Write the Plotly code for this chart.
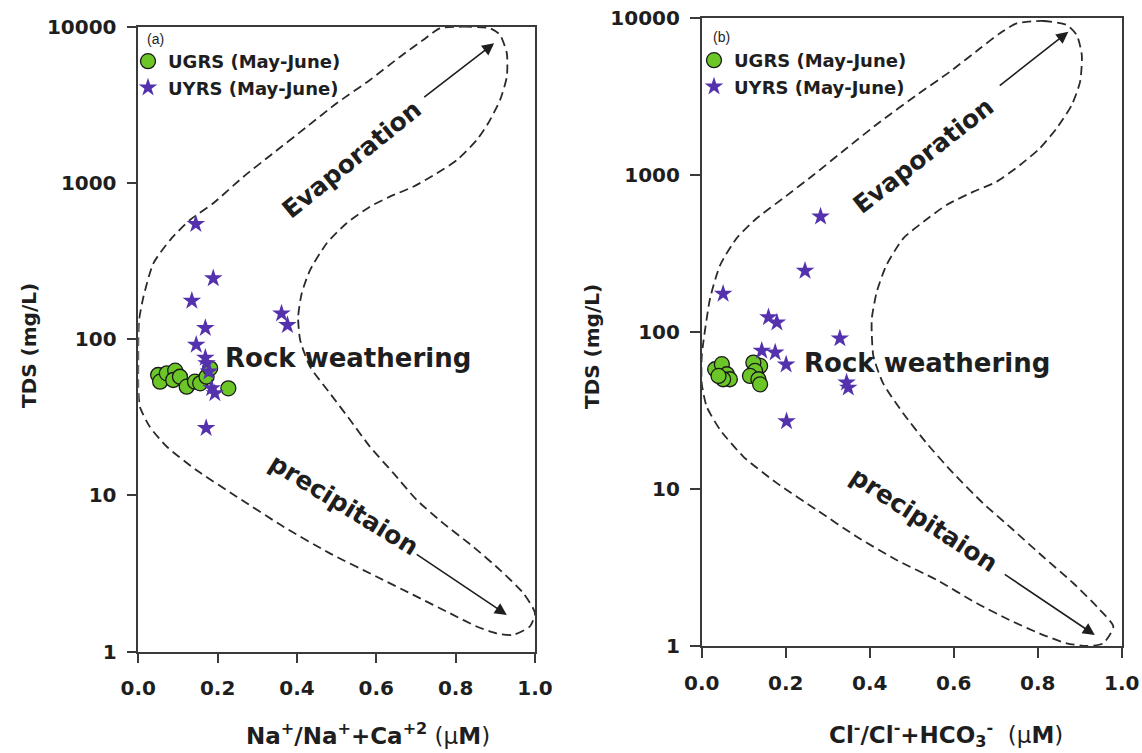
import numpy as np
import plotly.graph_objects as go

# ---------------- data ----------------
# Panel (a): Na+/(Na+ + Ca2+) vs TDS
ugrs_a_ratio = [0.050, 0.055, 0.072, 0.093, 0.088, 0.105, 0.122, 0.143, 0.156, 0.172, 0.181, 0.227]
ugrs_a_tds = [59, 53.5, 60.5, 62.9, 54.8, 57.5, 49.7, 53.5, 52.2, 57.5, 65.1, 48.5]
uyrs_a_ratio = [0.145, 0.189, 0.135, 0.169, 0.146, 0.169, 0.172, 0.178, 0.185, 0.193, 0.171, 0.361, 0.376]
uyrs_a_tds = [546, 245, 176, 118, 92, 76, 70, 62, 48.5, 45.1, 27, 146, 123]

# Panel (b): Cl-/(Cl- + HCO3-) vs TDS
ugrs_b_ratio = [0.032, 0.048, 0.060, 0.067, 0.051, 0.040, 0.139, 0.123, 0.127, 0.115, 0.135, 0.139]
ugrs_b_tds = [57.9, 62.4, 53.8, 50, 50, 52.5, 60.8, 63.9, 56.5, 52.5, 50, 46.4]
uyrs_b_ratio = [0.283, 0.246, 0.051, 0.159, 0.179, 0.329, 0.143, 0.175, 0.201, 0.345, 0.349, 0.202]
uyrs_b_tds = [543, 245, 175, 124, 115, 91, 76, 74, 62, 47.6, 44.2, 27]

# Gibbs envelope (dashed boomerang) for panel (a)
env_a_ratio = [0.760, 0.819, 0.887, 0.912, 0.929, 0.929, 0.912, 0.882, 0.853, 0.803, 0.752, 0.693,
               0.634, 0.584, 0.525, 0.475, 0.433, 0.412, 0.403, 0.408, 0.433, 0.483, 0.534, 0.584,
               0.643, 0.702, 0.769, 0.844, 0.912, 0.971, 1.000, 0.987, 0.945, 0.903, 0.853, 0.786,
               0.702, 0.601, 0.483, 0.366, 0.248, 0.147, 0.072, 0.029, 0.004, 0.0, 0.0, 0.0,
               0.002, 0.013, 0.038, 0.080, 0.130, 0.189, 0.265, 0.340, 0.425, 0.500, 0.584, 0.660,
               0.718, 0.760]
env_a_tds = [9770, 10000, 9770, 8850, 6760, 4790, 3400, 2410, 1880, 1400, 1150, 946,
             817, 705, 552, 411, 277, 197, 139, 98.9, 66.7, 45.1, 30.4, 20.5,
             13.9, 9.35, 6.63, 4.70, 3.33, 2.36, 1.76, 1.45, 1.28, 1.31, 1.45, 1.76,
             2.25, 3.02, 4.26, 6.31, 9.82, 14.5, 20.5, 27.5, 37, 49.7, 70.1, 94.2,
             133, 187, 306, 431, 579, 741, 1096, 1549, 2291, 3235, 4560, 6430,
             8220, 9770]

# Gibbs envelope for panel (b)
env_b_ratio = [0.750, 0.813, 0.869, 0.893, 0.905, 0.901, 0.881, 0.845, 0.805, 0.758, 0.702, 0.647,
               0.583, 0.528, 0.480, 0.440, 0.417, 0.405, 0.405, 0.409, 0.432, 0.480, 0.536, 0.599,
               0.670, 0.742, 0.813, 0.885, 0.948, 0.980, 0.956, 0.917, 0.869, 0.805, 0.734, 0.655,
               0.560, 0.464, 0.369, 0.274, 0.179, 0.099, 0.044, 0.012, 0.0, 0.0, 0.003, 0.020,
               0.044, 0.083, 0.131, 0.194, 0.266, 0.345, 0.425, 0.512, 0.591, 0.663, 0.710, 0.750]
env_b_tds = [9250, 9570, 9020, 7790, 5810, 3930, 2790, 1983, 1480, 1158, 906, 783,
             644, 504, 395, 267, 181, 122, 95.7, 69.6, 47.1, 30.3, 19.5, 12.6,
             8.11, 5.48, 3.70, 2.51, 1.70, 1.33, 1.04, 1.0, 1.04, 1.20, 1.46, 1.87,
             2.63, 3.53, 4.97, 7.35, 10.9, 16.1, 23.8, 33.4, 47.1, 69.6, 82.6, 164,
             267, 395, 530, 711, 1000, 1480, 2185, 3233, 4550, 6410, 8000, 9250]

# Arrows: (tail ratio, tail TDS, head ratio, head TDS)
evap_arrow_a = (0.717, 3480, 0.897, 7830)
prec_arrow_a = (0.698, 4.26, 0.929, 1.72)
evap_arrow_b = (0.706, 3650, 0.873, 8180)
prec_arrow_b = (0.718, 2.90, 0.936, 1.175)

x_ticks = [0.0, 0.2, 0.4, 0.6, 0.8, 1.0]
x_tick_labels = ["0.0", "0.2", "0.4", "0.6", "0.8", "1.0"]
y_ticks = [1, 10, 100, 1000, 10000]
y_tick_labels = ["1", "10", "100", "1000", "10000"]

# ---------------- figure ----------------
W, H = 1142, 753
FONT = "DejaVu Sans, Verdana, sans-serif"
GREEN = "#6cc627"
PURPLE = "#5532ad"
INK = "#1e1e1e"

fig = go.Figure()

panels = [
    ("x", "y", "legend", ugrs_a_ratio, ugrs_a_tds, uyrs_a_ratio, uyrs_a_tds, env_a_ratio, env_a_tds),
    ("x2", "y2", "legend2", ugrs_b_ratio, ugrs_b_tds, uyrs_b_ratio, uyrs_b_tds, env_b_ratio, env_b_tds),
]
for xa, ya, lg, gx, gy, sx, sy, ex, ey in panels:
    fig.add_trace(go.Scatter(x=ex, y=ey, xaxis=xa, yaxis=ya, mode="lines",
                             line=dict(color="#2a2a2a", width=1.8, dash="9px,5px", shape="spline", smoothing=0.6),
                             showlegend=False, hoverinfo="skip"))
    fig.add_trace(go.Scatter(x=gx, y=gy, xaxis=xa, yaxis=ya, mode="markers", name="UGRS (May-June)",
                             legend=lg,
                             marker=dict(symbol="circle", size=15, color=GREEN,
                                         line=dict(color="#1a1a1a", width=1.3))))
    fig.add_trace(go.Scatter(x=sx, y=sy, xaxis=xa, yaxis=ya, mode="markers", name="UYRS (May-June)",
                             legend=lg,
                             marker=dict(symbol="star", size=14, color=PURPLE, line=dict(width=0))))


def px_x(p):
    return p / W


def px_y(p):
    return 1 - p / H


axis_common = dict(showline=True, linecolor="#3a3a3a", linewidth=1.5, mirror=True,
                   ticks="outside", ticklen=10, tickwidth=1.5, tickcolor="#3a3a3a",
                   showgrid=False, zeroline=False, automargin=False,
                   tickfont=dict(family=FONT, size=20, color=INK, weight="bold"))

legend_common = dict(xanchor="left", yanchor="top", bgcolor="rgba(0,0,0,0)",
                     font=dict(family=FONT, size=18, color=INK, weight="bold"),
                     tracegroupgap=0, itemwidth=30)

fig.update_layout(
    width=W, height=H,
    margin=dict(l=0, r=0, t=0, b=0, autoexpand=False),
    paper_bgcolor="white", plot_bgcolor="white",
    xaxis=dict(domain=[px_x(138.3), px_x(535)], range=[0, 1], tickvals=x_ticks, ticktext=x_tick_labels,
               anchor="y", ticklabelstandoff=8, **axis_common),
    yaxis=dict(domain=[px_y(651.7), px_y(26.7)], type="log", range=[0, 4], tickvals=y_ticks,
               ticktext=y_tick_labels, anchor="x", ticklabelstandoff=6, **axis_common),
    xaxis2=dict(domain=[px_x(701.7), px_x(1121.7)], range=[0, 1], tickvals=x_ticks, ticktext=x_tick_labels,
                anchor="y2", ticklabelstandoff=8, **axis_common),
    yaxis2=dict(domain=[px_y(646), px_y(18)], type="log", range=[0, 4], tickvals=y_ticks,
                ticktext=y_tick_labels, anchor="x2", ticklabelstandoff=6, **axis_common),
    legend=dict(x=px_x(128), y=px_y(43), **legend_common),
    legend2=dict(x=px_x(694), y=px_y(42), **legend_common),
    showlegend=True,
)

ann = []
lab_font = dict(family=FONT, size=25, color=INK, weight="bold")
for xr, yr, evap, prec, ev_pos, pr_pos, rw_pos, ev_ang, pr_ang in [
    ("x", "y", evap_arrow_a, prec_arrow_a, (0.538, 1403), (0.517, 8.69), (0.529, 75.5), -39, 31.5),
    ("x2", "y2", evap_arrow_b, prec_arrow_b, (0.528, 1340), (0.528, 6.35), (0.536, 63.2), -38, 33),
]:
    for (tx, ty, hx, hy) in (evap, prec):
        ann.append(dict(xref=xr, yref=yr, axref=xr, ayref=yr, x=hx, y=np.log10(hy), ax=tx, ay=np.log10(ty),
                        text="", showarrow=True, arrowhead=2, arrowsize=1.5, arrowwidth=1.6,
                        arrowcolor=INK, standoff=0, startstandoff=0))
    ann.append(dict(xref=xr, yref=yr, x=ev_pos[0], y=np.log10(ev_pos[1]), text="Evaporation",
                    xanchor="center", yanchor="middle",
                    showarrow=False, textangle=ev_ang, font=lab_font))
    ann.append(dict(xref=xr, yref=yr, x=pr_pos[0], y=np.log10(pr_pos[1]), text="precipitaion",
                    xanchor="center", yanchor="middle",
                    showarrow=False, textangle=pr_ang, font=lab_font))
    ann.append(dict(xref=xr, yref=yr, x=rw_pos[0], y=np.log10(rw_pos[1]), text="Rock weathering",
                    xanchor="center", yanchor="middle",
                    showarrow=False, font=dict(family=FONT, size=26, color=INK, weight="bold")))

# panel tags
tag_font = dict(family="Liberation Sans, Arial, sans-serif", size=14, color=INK)
ann.append(dict(xref="paper", yref="paper", x=px_x(155), y=px_y(39), text="(a)", showarrow=False,
                xanchor="center", yanchor="middle", font=tag_font))
ann.append(dict(xref="paper", yref="paper", x=px_x(721), y=px_y(37), text="(b)", showarrow=False,
                xanchor="center", yanchor="middle", font=tag_font))

# axis titles
title_font = dict(family=FONT, size=23, color=INK)
ann.append(dict(xref="paper", yref="paper", x=px_x(368), y=px_y(734), xanchor="center", yanchor="middle",
                text="<b>Na<sup>+</sup>/Na<sup>+</sup>+Ca<sup>+2</sup></b> (μ<b>M</b>)",
                showarrow=False, font=title_font))
ann.append(dict(xref="paper", yref="paper", x=px_x(946), y=px_y(734), xanchor="center", yanchor="middle",
                text="<b>Cl<sup>-</sup>/Cl<sup>-</sup>+HCO<sub>3</sub><sup>-</sup></b>  (μ<b>M</b>)",
                showarrow=False, font=title_font))
ann.append(dict(xref="paper", yref="paper", x=px_x(29), y=px_y(346), xanchor="center", yanchor="middle",
                text="<b>TDS (mg/L)</b>", textangle=-90, showarrow=False,
                font=dict(family=FONT, size=20, color=INK)))
ann.append(dict(xref="paper", yref="paper", x=px_x(592), y=px_y(346), xanchor="center", yanchor="middle",
                text="<b>TDS (mg/L)</b>", textangle=-90, showarrow=False,
                font=dict(family=FONT, size=20, color=INK)))

fig.update_layout(annotations=ann)
fig.write_html("out.html")
